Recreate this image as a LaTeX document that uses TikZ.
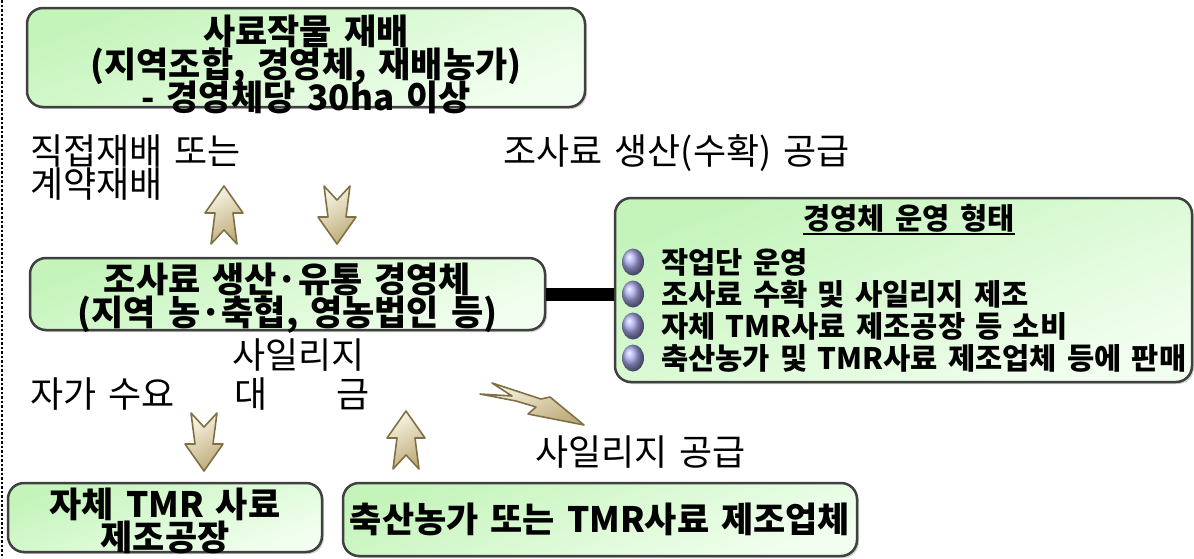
\documentclass[tikz,border=0pt]{standalone}
\usepackage{fontspec}
\setmainfont{Noto Sans CJK KR}[WordSpace=1.5]
\usepackage{xcolor}
\usetikzlibrary{shapes.geometric,shadows}

\definecolor{boxgreen}{RGB}{196,244,186}
\definecolor{boxpale}{RGB}{242,255,240}
\definecolor{arrowlight}{RGB}{248,244,228}
\definecolor{arrowdark}{RGB}{190,172,122}
\definecolor{arrowline}{RGB}{128,112,68}
\definecolor{ballblue}{RGB}{165,165,232}

\newcommand{\tightlines}{\setlength{\lineskiplimit}{-40pt}\setlength{\lineskip}{0pt}}

\tikzset{
  greenbox/.style={draw=black!75,line width=2.5pt,rounded corners=16pt,
    top color=boxgreen,bottom color=boxpale,shading angle=20,
    drop shadow={shadow xshift=2pt,shadow yshift=-2pt,opacity=0.35}},
  boxtext/.style={font=\bfseries\fontsize{35}{33}\selectfont\tightlines,
    align=center,inner sep=0pt},
  optext/.style={font=\bfseries\fontsize{29.6}{32}\selectfont,inner sep=0pt},
  plain/.style={font=\fontsize{36}{34}\selectfont,inner sep=0pt},
  arrowbody/.style={draw=arrowline,line width=1.6pt,line join=round,
    left color=arrowlight,right color=arrowdark,shading angle=30},
  bulletball/.style={ellipse,minimum width=22pt,minimum height=27pt,inner sep=0pt,
    shading=ball,ball color=ballblue},
  upshape/.pic={\draw[arrowbody] (0,29) -- (19,2) -- (9,2) -- (13,-29) -- (0,-15)
    -- (-13,-29) -- (-9,2) -- (-19,2) -- cycle;}
}

\begin{document}
\begin{tikzpicture}[x=1pt,y=1pt]
\useasboundingbox (0,0) rectangle (1194,-558);

% left border
\draw[line width=2.5pt,dotted] (2,0) -- (2,-558);

% boxes
\node[greenbox,minimum width=558pt,minimum height=99pt] (crop) at (306,-57.5) {};
\node[boxtext] (croptxt) at ([yshift=-7pt]crop) {사료작물 재배\\(지역조합, 경영체, 재배농가)\\- 경영체당 30ha 이상};

\node[greenbox,minimum width=515pt,minimum height=72pt] (farm) at (287.5,-294) {};
\node[boxtext] (farmtxt) at ([yshift=-4pt]farm) {조사료 생산·유통 경영체\\(지역 농·축협, 영농법인 등)};

\node[greenbox,minimum width=577pt,minimum height=184pt] (ops) at (903.5,-290) {};

\node[greenbox,minimum width=314pt,minimum height=69pt] (own) at (165,-517.5) {};
\node[boxtext] (owntxt) at ([yshift=-3pt]own) {자체 TMR 사료\\제조공장};

\node[greenbox,minimum width=514pt,minimum height=73pt] (buyer) at (600,-519.5) {};
\node[boxtext] (buyertxt) at (buyer) {축산농가 또는 TMR사료 제조업체};

% link bar
\draw[line width=13pt] (farm.east) -- (farm.east -| ops.west);

% operating forms
\node[optext] (ophead) at (909,-218) {경영체 운영 형태};
\draw[line width=2.5pt] ([yshift=-5pt]ophead.base west) -- ([yshift=-5pt]ophead.base east);
\node[bulletball] (b1) at (633,-262) {};
\node[bulletball] (b2) at (633,-294) {};
\node[bulletball] (b3) at (633,-326) {};
\node[bulletball] (b4) at (633,-358) {};
\node[optext,anchor=west] (op1) at (661,-262) {작업단 운영};
\node[optext,anchor=west] (op2) at (661,-294) {조사료 수확 및 사일리지 제조};
\node[optext,anchor=west] (op3) at (661,-326) {자체 TMR사료 제조공장 등 소비};
\node[optext,anchor=west] (op4) at (661,-358) {축산농가 및 TMR사료 제조업체 등에 판매};

% labels
\node[plain,anchor=base west] (direct) at (30,-164) {직접재배 또는};
\node[plain,anchor=base west] (contract) at (30,-197) {계약재배};
\node[plain,anchor=base west] (supply) at (503,-164) {조사료 생산(수확) 공급};
\node[plain,anchor=base west] (selfuse) at (30,-407) {자가 수요};
\node[plain,anchor=base west] (fee) at (232,-368) {사일리지};
\node[plain,anchor=base west] (feea) at (234,-407) {대};
\node[plain,anchor=base west] (feeb) at (336,-407) {금};
\node[plain,anchor=base west] (silage) at (535,-465) {사일리지 공급};

% arrows
\pic at (224,-215) {upshape};
\pic[rotate=180] at (337,-215) {upshape};
\pic[rotate=180] at (204,-442) {upshape};
\pic at (406,-440) {upshape};
\draw[arrowbody] (492,-383) -- (541,-399) -- (550,-397) -- (584,-425) -- (528,-414)
  -- (536,-407) -- (516,-401) -- (480,-394) -- (512,-396) -- cycle;
\end{tikzpicture}
\end{document}
